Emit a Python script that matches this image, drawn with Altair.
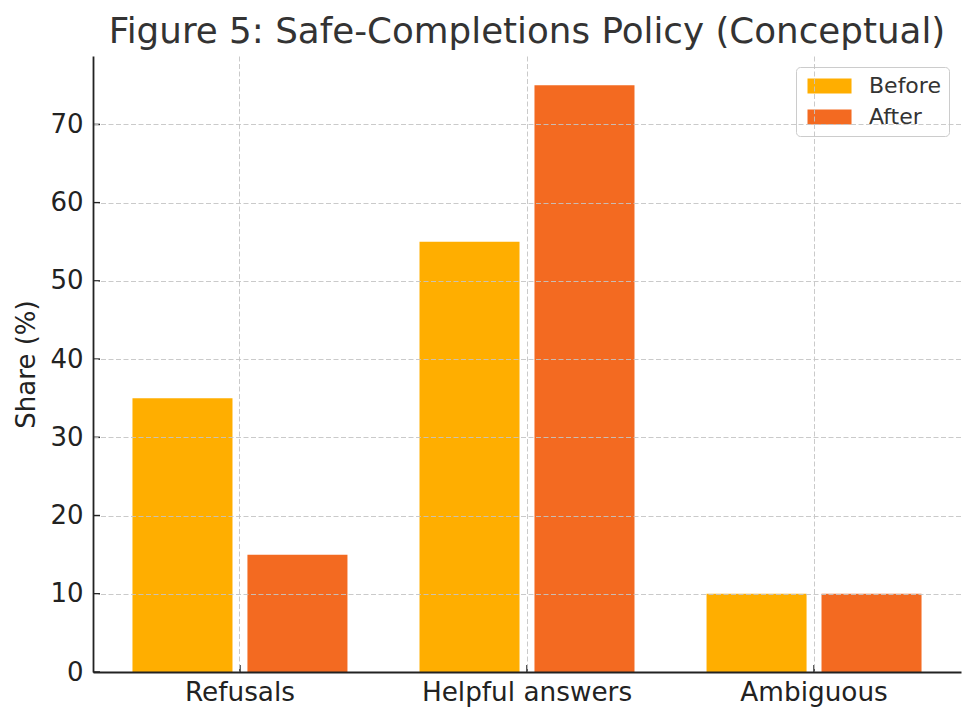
import altair as alt
import pandas as pd

# ---- data ----
categories = ["Refusals", "Helpful answers", "Ambiguous"]
series = ["Before", "After"]
before = [35, 55, 10]
after = [15, 75, 10]
y_ticks = [0, 10, 20, 30, 40, 50, 60, 70]
colors = ["#FFAE00", "#F36A21"]
title_text = "Figure 5: Safe-Completions Policy (Conceptual)"
y_title = "Share (%)"

rows = []
for c, b, a in zip(categories, before, after):
    rows.append({"category": c, "series": "Before", "share": b})
    rows.append({"category": c, "series": "After", "share": a})
df = pd.DataFrame(rows)
tick_df = pd.DataFrame({"v": y_ticks})
cat_df = pd.DataFrame({"category": categories})

W, H = 868, 616
FONT = "DejaVu Sans"
INK = "#222222"

x_scale = alt.Scale(domain=categories, paddingInner=0.251, paddingOuter=0.1375)
y_scale = alt.Scale(domain=[0, 78.75], nice=False, zero=True)

x_axis = alt.Axis(
    title=None, labelAngle=0, labelFontSize=26.3, labelFont=FONT, labelColor=INK,
    labelPadding=7, labelLimit=0, ticks=False, tickSize=0, domain=True, domainColor=INK,
    domainWidth=1.8, grid=True, gridColor="#c4c4c4", gridDash=[5, 2.5],
    gridWidth=0.9, zindex=1,
)
y_axis = alt.Axis(
    title=y_title, titleFontSize=26, titleFont=FONT, titleColor=INK,
    titleFontWeight="normal", titlePadding=10, values=y_ticks,
    labelFontSize=26, labelFont=FONT, labelColor=INK, labelPadding=10,
    ticks=False, tickSize=0, domain=True, domainColor=INK, domainWidth=1.8,
    grid=True, gridColor="#c4c4c4", gridDash=[5, 2.5], gridWidth=0.9, zindex=1,
)

bars = alt.Chart(df).mark_bar().encode(
    x=alt.X("category:N", scale=x_scale, sort=categories, axis=x_axis),
    xOffset=alt.XOffset("series:N", sort=series,
                        scale=alt.Scale(domain=series, paddingInner=0.13, paddingOuter=0)),
    y=alt.Y("share:Q", scale=y_scale, axis=y_axis),
    color=alt.Color(
        "series:N", sort=series,
        scale=alt.Scale(domain=series, range=colors),
        legend=alt.Legend(
            title=None, orient="none", legendX=703, legendY=11,
            direction="vertical",
            symbolType="M-1,-1L4.87,-1L4.87,1L-1,1Z", symbolSize=225,
            symbolStrokeWidth=0, symbolOpacity=1,
            labelFont=FONT, labelFontSize=22, labelColor="#333333",
            labelOffset=43, rowPadding=9, padding=8,
            strokeColor="#cccccc", cornerRadius=4,
            fillColor="white",
        ),
    ),
)

ytick_marks = alt.Chart(tick_df).mark_rule(color=INK, strokeWidth=1.5).encode(
    y=alt.Y("v:Q", scale=y_scale, axis=y_axis),
    x=alt.value(0), x2=alt.value(7),
)
xtick_marks = alt.Chart(cat_df).mark_rule(color=INK, strokeWidth=1.5).encode(
    x=alt.X("category:N", scale=x_scale, sort=categories, axis=x_axis),
    y=alt.value(H), y2=alt.value(H - 7),
)

chart = alt.layer(bars, ytick_marks, xtick_marks).properties(
    width=W, height=H,
    title=alt.TitleParams(title_text, fontSize=35.7, font=FONT, color="#333333",
                          fontWeight="normal", anchor="middle", offset=5),
    padding={"left": 85, "top": 48, "right": 5, "bottom": 40},
    autosize=alt.AutoSizeParams(type="none"),
    background="white",
).configure_view(stroke=None)

chart.save("out.html", embed_options={"renderer": "svg", "actions": False})
